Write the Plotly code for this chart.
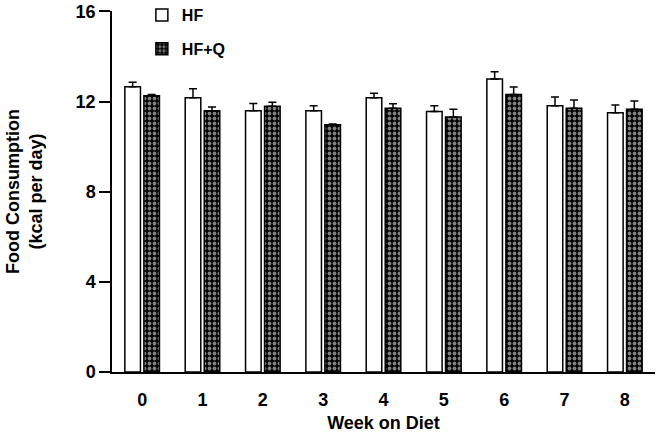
import plotly.graph_objects as go

weeks = ["0", "1", "2", "3", "4", "5", "6", "7", "8"]
hf = [12.66, 12.17, 11.59, 11.59, 12.17, 11.56, 13.0, 11.82, 11.51]
hf_err = [0.2, 0.4, 0.32, 0.23, 0.2, 0.26, 0.32, 0.38, 0.34]
hfq = [12.26, 11.59, 11.79, 10.97, 11.70, 11.32, 12.32, 11.70, 11.66]
hfq_err = [0.05, 0.17, 0.18, 0.03, 0.2, 0.34, 0.33, 0.37, 0.37]
y_ticks = [0, 4, 8, 12, 16]

FONT = "Liberation Sans"

fig = go.Figure()
fig.add_trace(go.Bar(
    x=weeks, y=hf, name="HF", legendgroup="a",
    marker=dict(color="white", line=dict(color="black", width=1.5)),
    error_y=dict(type="data", array=hf_err, arrayminus=[0] * len(hf_err),
                 symmetric=False, color="black", thickness=1.5, width=4),
))
fig.add_trace(go.Bar(
    x=weeks, y=hfq, name="HF+Q", legendgroup="b",
    marker=dict(color="black", line=dict(color="black", width=1.5),
                pattern=dict(shape=".", bgcolor="black", fgcolor="white",
                             size=5, solidity=0.45)),
    error_y=dict(type="data", array=hfq_err, arrayminus=[0] * len(hfq_err),
                 symmetric=False, color="black", thickness=1.5, width=4),
))

fig.update_layout(
    width=662, height=445,
    margin=dict(l=112, r=7, t=11, b=73, autoexpand=False),
    plot_bgcolor="white", paper_bgcolor="white",
    barmode="group", bargap=0.37, bargroupgap=0.18,
    font=dict(family=FONT, size=18, color="black", weight="bold"),
    showlegend=True,
    legend=dict(x=0.055, y=1.036, xanchor="left", yanchor="top",
                font=dict(size=16, family=FONT, weight="bold"),
                tracegroupgap=10, bgcolor="rgba(0,0,0,0)"),
)
fig.update_xaxes(
    type="category", range=[-0.5, 8.5], automargin=False,
    showline=True, linecolor="black", linewidth=1.5,
    ticks="", showgrid=False, zeroline=False,
    ticklabelstandoff=11,
    title=dict(text="Week on Diet", standoff=7,
               font=dict(size=18, family=FONT, weight="bold")),
)
fig.update_yaxes(
    range=[0, 16.02], tickvals=y_ticks, ticktext=[str(v) for v in y_ticks],
    automargin=False, ticklabeloverflow="allow",
    showline=True, linecolor="black", linewidth=1.5,
    ticks="outside", ticklen=11, tickwidth=1.5, tickcolor="black",
    showgrid=False, zeroline=False,
    title=dict(text="Food Consumption<br>(kcal per day)", standoff=28,
               font=dict(size=18, family=FONT, weight="bold")),
)

fig.write_html("out.html", config={"displayModeBar": False},
               post_script="document.body.style.margin='0';")
